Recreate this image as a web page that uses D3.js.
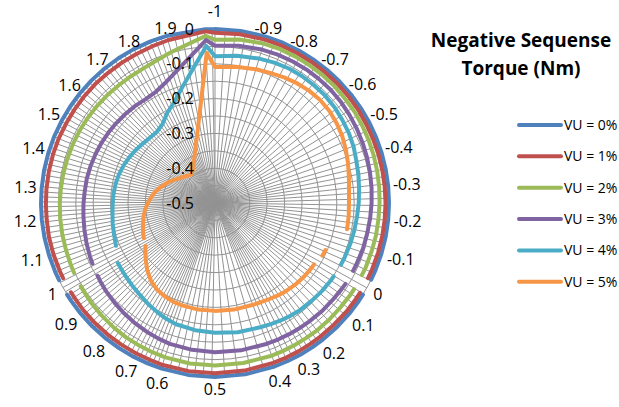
<!DOCTYPE html>
<html>
<head>
<meta charset="utf-8">
<script src="https://cdn.jsdelivr.net/npm/d3@7"></script>
<style>
  body { margin: 0; background: #ffffff; }
  svg { display: block; }
</style>
</head>
<body>
<svg id="chart" width="619" height="407"></svg>
<script>
// Slip values printed round the dial, and their bearing (degrees clockwise from top)
const slipTicks  = [-1, -0.9, -0.8, -0.7, -0.6, -0.5, -0.4, -0.3, -0.2, -0.1,
                     0, 0.1, 0.2, 0.3, 0.4, 0.5, 0.6, 0.7, 0.8, 0.9,
                     1, 1.1, 1.2, 1.3, 1.4, 1.5, 1.6, 1.7, 1.8, 1.9];
const slipBearings = [0, 17, 28.8, 39.9, 51.3, 62.4, 73.3, 84.5, 95.5, 107,
                      119.2, 129.5, 141.6, 150.5, 160, 180, 197.8, 207.8, 219.2, 230.8,
                      240.7, 252.5, 264.4, 274.7, 286.6, 298.2, 309, 320.6, 332, 344.1];

// Torque axis tick values
const torqueTicks = [-0.5, -0.4, -0.3, -0.2, -0.1, 0];

// Slip points at which the torque was evaluated (0 and 1 are undefined)
const slip = [-1, -0.95, -0.9, -0.85, -0.8, -0.75, -0.7, -0.65, -0.6, -0.55,
              -0.5, -0.45, -0.4, -0.35, -0.3, -0.25, -0.2, -0.15, -0.1, -0.05,
              -0.025, 0, 0.025, 0.05, 0.1, 0.15, 0.2, 0.25, 0.3, 0.35,
              0.4, 0.45, 0.5, 0.55, 0.6, 0.65, 0.7, 0.75, 0.8, 0.85,
              0.9, 0.95, 0.975, 1, 1.025, 1.05, 1.1, 1.15, 1.2, 1.25,
              1.3, 1.35, 1.4, 1.45, 1.5, 1.55, 1.6, 1.65, 1.7, 1.75,
              1.8, 1.85, 1.9, 1.98];

// Negative sequence torque (Nm) for each voltage unbalance level
const vu0 = [0, 0, 0, 0, 0, 0, 0, 0, 0, 0,
             0, 0, 0, 0, 0, 0, 0, 0, 0, 0,
             0, null, 0, 0, 0, 0, 0, 0, 0, 0,
             0, 0, 0, 0, 0, 0, 0, 0, 0, 0,
             0, 0, 0, null, 0, 0, 0, 0, 0, 0,
             0, 0, 0, 0, 0, 0, 0, 0, 0, 0,
             0, 0, 0, 0];
const vu1 = [-0.011, -0.010, -0.009, -0.009, -0.009, -0.009, -0.009, -0.009, -0.009, -0.009,
             -0.010, -0.010, -0.010, -0.010, -0.010, -0.010, -0.010, -0.010, -0.010, -0.010,
             -0.010, null, -0.010, -0.010, -0.010, -0.011, -0.011, -0.011, -0.011, -0.011,
             -0.011, -0.011, -0.011, -0.011, -0.011, -0.012, -0.012, -0.012, -0.012, -0.012,
             -0.012, -0.013, -0.013, null, -0.013, -0.013, -0.013, -0.013, -0.014, -0.014,
             -0.014, -0.014, -0.014, -0.014, -0.015, -0.015, -0.015, -0.015, -0.016, -0.016,
             -0.016, -0.015, -0.013, -0.006];
const vu2 = [-0.031, -0.025, -0.021, -0.020, -0.020, -0.020, -0.020, -0.020, -0.021, -0.021,
             -0.022, -0.023, -0.024, -0.025, -0.026, -0.027, -0.028, -0.028, -0.029, -0.029,
             -0.030, null, -0.030, -0.030, -0.031, -0.031, -0.031, -0.032, -0.032, -0.032,
             -0.032, -0.033, -0.033, -0.033, -0.034, -0.035, -0.036, -0.037, -0.039, -0.041,
             -0.043, -0.045, -0.046, null, -0.048, -0.049, -0.051, -0.052, -0.053, -0.054,
             -0.055, -0.056, -0.057, -0.058, -0.059, -0.060, -0.061, -0.062, -0.063, -0.063,
             -0.062, -0.057, -0.048, -0.019];
const vu3 = [-0.048, -0.043, -0.039, -0.037, -0.036, -0.035, -0.035, -0.035, -0.036, -0.038,
             -0.040, -0.042, -0.044, -0.046, -0.048, -0.050, -0.052, -0.054, -0.055, -0.057,
             -0.058, null, -0.059, -0.060, -0.062, -0.063, -0.065, -0.066, -0.067, -0.068,
             -0.069, -0.070, -0.071, -0.073, -0.075, -0.078, -0.081, -0.085, -0.089, -0.093,
             -0.097, -0.101, -0.103, null, -0.107, -0.109, -0.113, -0.117, -0.120, -0.122,
             -0.124, -0.125, -0.127, -0.129, -0.131, -0.133, -0.135, -0.137, -0.139, -0.141,
             -0.138, -0.125, -0.104, -0.031];
const vu4 = [-0.078, -0.072, -0.066, -0.062, -0.059, -0.058, -0.058, -0.058, -0.060, -0.063,
             -0.066, -0.070, -0.076, -0.080, -0.084, -0.087, -0.090, -0.092, -0.094, -0.096,
             -0.097, null, -0.099, -0.100, -0.102, -0.105, -0.107, -0.110, -0.113, -0.117,
             -0.120, -0.123, -0.127, -0.130, -0.134, -0.139, -0.145, -0.152, -0.159, -0.164,
             -0.168, -0.171, -0.172, null, null, -0.190, -0.196, -0.200, -0.204, -0.206,
             -0.207, -0.209, -0.212, -0.216, -0.221, -0.226, -0.231, -0.235, -0.236, -0.228,
             -0.207, -0.187, -0.155, -0.048];
const vu5 = [-0.109, -0.104, -0.098, -0.094, -0.088, -0.083, -0.079, -0.077, -0.078, -0.082,
             -0.087, -0.094, -0.101, -0.108, -0.113, -0.115, -0.114, -0.113, null, -0.155,
             -0.156, null, -0.165, -0.166, -0.168, -0.171, -0.175, -0.179, -0.183, -0.186,
             -0.188, -0.189, -0.190, -0.190, -0.191, -0.192, -0.195, -0.200, -0.210, -0.225,
             -0.243, -0.258, -0.265, null, -0.272, -0.275, -0.283, -0.290, -0.298, -0.306,
             -0.315, -0.325, -0.338, -0.350, -0.362, -0.373, -0.381, -0.389, -0.393, -0.386,
             -0.370, -0.345, -0.308, -0.068];

const seriesNames  = ["VU = 0%", "VU = 1%", "VU = 2%", "VU = 3%", "VU = 4%", "VU = 5%"];
const seriesValues = [vu0, vu1, vu2, vu3, vu4, vu5];
const seriesColors = ["#4F81BD", "#C0504D", "#9BBB59", "#8064A2", "#4BACC6", "#F79646"];

const svg = d3.select("#chart");
const cx = 215, cy = 203, R = 174;
const FONT = "'Open Sans', 'Liberation Sans', sans-serif";

// slip -> bearing; slip 2 closes the dial back onto slip -1
const angle = d3.scaleLinear()
  .domain([...slipTicks, 2])
  .range([...slipBearings, 360].map(d => d * Math.PI / 180));
const radius = d3.scaleLinear().domain([-0.5, 0]).range([0, R]);

const plot = svg.append("g").attr("transform", `translate(${cx},${cy})`);
const gridColor = "#939393";

// spokes: finer slip spacing towards the high-slip side
const spokeSlip = [];
for (let s = -1; s < 1.995; ) {
  spokeSlip.push(s);
  s += s < -0.9 ? 0.02 : s < -0.4 ? 0.028 : s < 0.5 ? 0.022 : 0.016;
}
plot.append("g").selectAll("line").data(spokeSlip).join("line")
  .attr("x1", 0).attr("y1", 0)
  .attr("x2", d => R * Math.sin(angle(d)))
  .attr("y2", d => -R * Math.cos(angle(d)))
  .attr("stroke", gridColor).attr("stroke-width", 1);

// torque rings every 0.05
const ringValues = d3.range(1, 11).map(i => -0.5 + i * 0.05);
plot.append("g").selectAll("circle").data(ringValues).join("circle")
  .attr("r", d => radius(d))
  .attr("fill", "none").attr("stroke", gridColor).attr("stroke-width", 1);

// torque curves (each loop closes back on its first point)
const line = d3.lineRadial()
  .defined(d => d.v !== null)
  .angle(d => angle(d.s))
  .radius(d => radius(d.v));

seriesValues.forEach((vals, k) => {
  const pts = slip.map((s, i) => ({ s, v: vals[i] }));
  pts.push({ s: 2, v: vals[0] });
  plot.append("path")
    .datum(pts)
    .attr("d", line)
    .attr("fill", "none")
    .attr("stroke", seriesColors[k])
    .attr("stroke-width", 4)
    .attr("stroke-linecap", "round")
    .attr("stroke-linejoin", "round");
});

// torque axis labels beside the upward spoke
plot.append("g").selectAll("text").data(torqueTicks).join("text")
  .attr("x", -21).attr("y", d => -radius(d))
  .attr("dy", "0.35em").attr("text-anchor", "end")
  .attr("font-family", FONT).attr("font-size", 16)
  .attr("fill", "#000").text(d => String(d));

// slip labels round the rim, pushed out by their own size
const slipLabels = plot.append("g").selectAll("text").data(slipTicks).join("text")
  .attr("text-anchor", "middle").attr("dy", "0.35em")
  .attr("font-family", FONT).attr("font-size", 16)
  .attr("fill", "#000").text(d => String(d));
slipLabels.each(function (d) {
  const a = angle(d), w = this.getComputedTextLength();
  const s = Math.sin(a), c = Math.cos(a);
  let dist = R + 5 + Math.abs(s) * w / 2 + (c < 0 ? -7 * c : -1 * c);
  if (Math.abs(s) < 0.01 && c > 0) dist += 14; // clear the torque axis labels
  d3.select(this).attr("x", dist * s).attr("y", -dist * c);
});

// title
const title = svg.append("text")
  .attr("text-anchor", "middle")
  .attr("font-family", FONT)
  .attr("font-weight", "bold").attr("font-size", 19)
  .attr("fill", "#000");
title.append("tspan").attr("x", 521).attr("y", 47).text("Negative Sequense");
title.append("tspan").attr("x", 521).attr("y", 75).text("Torque (Nm)");

// legend
const legend = svg.append("g").selectAll("g").data(seriesNames).join("g")
  .attr("transform", (d, i) => `translate(519,${125 + i * 31.35})`);
legend.append("line")
  .attr("x1", 0).attr("x2", 42).attr("y1", 0).attr("y2", 0)
  .attr("stroke", (d, i) => seriesColors[i])
  .attr("stroke-width", 4).attr("stroke-linecap", "round");
legend.append("text")
  .attr("x", 45).attr("y", 0).attr("dy", "0.35em")
  .attr("font-family", FONT).attr("font-size", 14)
  .attr("fill", "#000").text(d => d);
</script>
</body>
</html>
